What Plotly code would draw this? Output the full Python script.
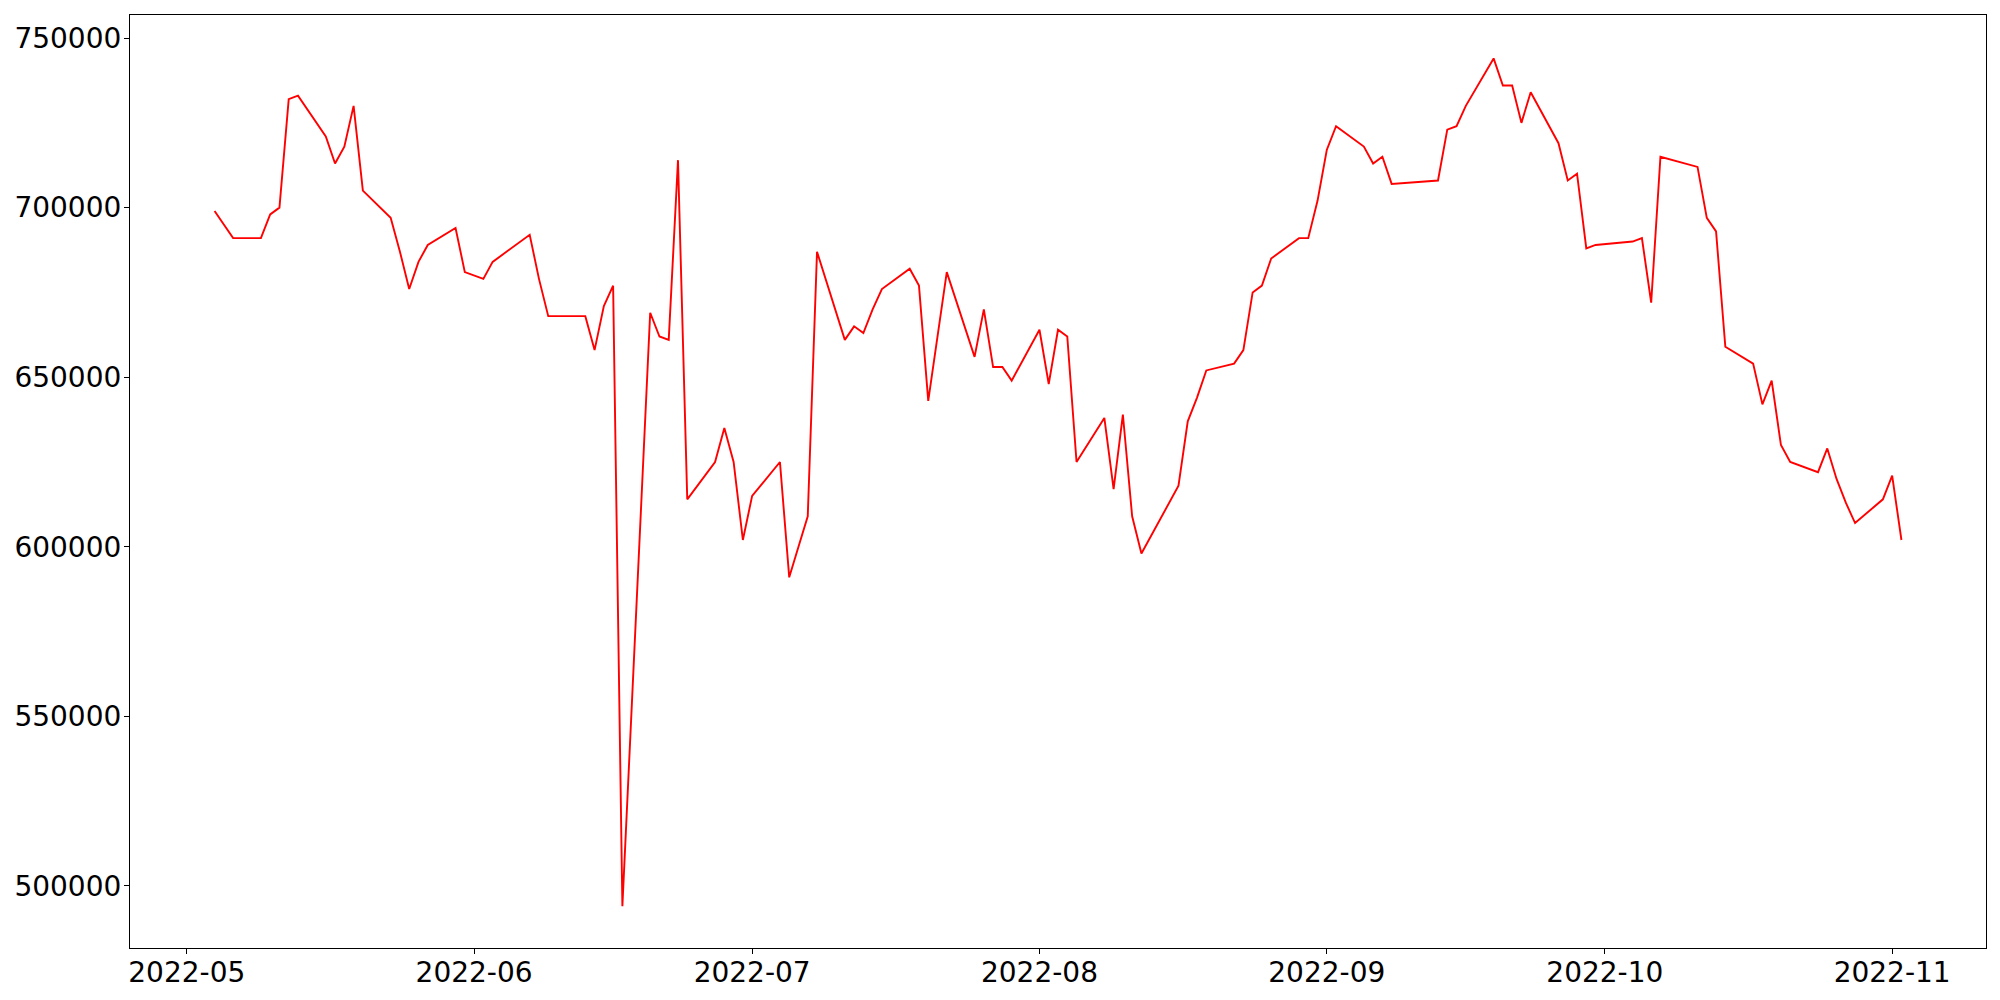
import plotly.graph_objects as go

dates = [
    "2022-05-04", "2022-05-06", "2022-05-09", "2022-05-10", "2022-05-11", "2022-05-12", "2022-05-13",
    "2022-05-16", "2022-05-17", "2022-05-18", "2022-05-19", "2022-05-20",
    "2022-05-23", "2022-05-24", "2022-05-25", "2022-05-26", "2022-05-27",
    "2022-05-30", "2022-05-31", "2022-06-02", "2022-06-03",
    "2022-06-07", "2022-06-08", "2022-06-09", "2022-06-10",
    "2022-06-13", "2022-06-14", "2022-06-15", "2022-06-16", "2022-06-17",
    "2022-06-20", "2022-06-21", "2022-06-22", "2022-06-23", "2022-06-24",
    "2022-06-27", "2022-06-28", "2022-06-29", "2022-06-30", "2022-07-01",
    "2022-07-04", "2022-07-05", "2022-07-06", "2022-07-07", "2022-07-08",
    "2022-07-11", "2022-07-12", "2022-07-13", "2022-07-14", "2022-07-15",
    "2022-07-18", "2022-07-19", "2022-07-20", "2022-07-21", "2022-07-22",
    "2022-07-25", "2022-07-26", "2022-07-27", "2022-07-28", "2022-07-29",
    "2022-08-01", "2022-08-02", "2022-08-03", "2022-08-04", "2022-08-05",
    "2022-08-08", "2022-08-09", "2022-08-10", "2022-08-11", "2022-08-12",
    "2022-08-16", "2022-08-17", "2022-08-18", "2022-08-19",
    "2022-08-22", "2022-08-23", "2022-08-24", "2022-08-25", "2022-08-26",
    "2022-08-29", "2022-08-30", "2022-08-31", "2022-09-01", "2022-09-02",
    "2022-09-05", "2022-09-06", "2022-09-07", "2022-09-08",
    "2022-09-13", "2022-09-14", "2022-09-15", "2022-09-16",
    "2022-09-19", "2022-09-20", "2022-09-21", "2022-09-22", "2022-09-23",
    "2022-09-26", "2022-09-27", "2022-09-28", "2022-09-29", "2022-09-30",
    "2022-10-04", "2022-10-05", "2022-10-06", "2022-10-07",
    "2022-10-11", "2022-10-12", "2022-10-13", "2022-10-14",
    "2022-10-17", "2022-10-18", "2022-10-19", "2022-10-20", "2022-10-21",
    "2022-10-24", "2022-10-25", "2022-10-26", "2022-10-27", "2022-10-28",
    "2022-10-31", "2022-11-01", "2022-11-02",
]

values = [
    699000, 691000, 691000, 698000, 700000, 732000, 733000,
    721000, 713000, 718000, 730000, 705000,
    697000, 687000, 676000, 684000, 689000,
    694000, 681000, 679000, 684000,
    692000, 679000, 668000, 668000,
    668000, 658000, 671000, 677000, 494000,
    669000, 662000, 661000, 714000, 614000,
    625000, 635000, 625000, 602000, 615000,
    625000, 591000, 600000, 609000, 687000,
    661000, 665000, 663000, 670000, 676000,
    682000, 677000, 643000, 662000, 681000,
    656000, 670000, 653000, 653000, 649000,
    664000, 648000, 664000, 662000, 625000,
    638000, 617000, 639000, 609000, 598000,
    618000, 637000, 644000, 652000,
    654000, 658000, 675000, 677000, 685000,
    691000, 691000, 702000, 717000, 724000,
    718000, 713000, 715000, 707000,
    708000, 723000, 724000, 730000,
    744000, 736000, 736000, 725000, 734000,
    719000, 708000, 710000, 688000, 689000,
    690000, 691000, 672000, 715000,
    712000, 697000, 693000, 659000,
    654000, 642000, 649000, 630000, 625000,
    622000, 629000, 620000, 613000, 607000,
    614000, 621000, 602000,
]

month_ticks = ["2022-05-01", "2022-06-01", "2022-07-01", "2022-08-01",
               "2022-09-01", "2022-10-01", "2022-11-01"]
month_labels = ["2022-05", "2022-06", "2022-07", "2022-08",
                "2022-09", "2022-10", "2022-11"]
y_ticks = [500000, 550000, 600000, 650000, 700000, 750000]

fig = go.Figure()
fig.add_trace(go.Scatter(x=dates, y=values, mode="lines",
                         line=dict(color="#ff0000", width=1.9),
                         showlegend=False))

axis_common = dict(showline=True, linecolor="black", linewidth=1.2, mirror=True,
                   ticks="outside", ticklen=5, tickwidth=1.2, tickcolor="black",
                   showgrid=False, zeroline=False, automargin=False,
                   tickfont=dict(family="DejaVu Sans", size=28, color="black"))

# page body has an 8px default margin; figure sized so the plot area lands
# where the reference's does
fig.update_layout(
    width=1984, height=984,
    margin=dict(l=122, r=6, t=7, b=44),
    paper_bgcolor="white", plot_bgcolor="white",
    font=dict(family="DejaVu Sans", size=28, color="black"),
    xaxis=dict(type="date", range=["2022-04-24 21:00", "2022-11-11 03:00"],
               tickvals=month_ticks, ticktext=month_labels,
               ticklabelstandoff=-6, **axis_common),
    yaxis=dict(range=[481700, 756800], tickvals=y_ticks,
               ticktext=[str(v) for v in y_ticks],
               ticklabelstandoff=-3, **axis_common),
)

fig.write_html("out.html")
